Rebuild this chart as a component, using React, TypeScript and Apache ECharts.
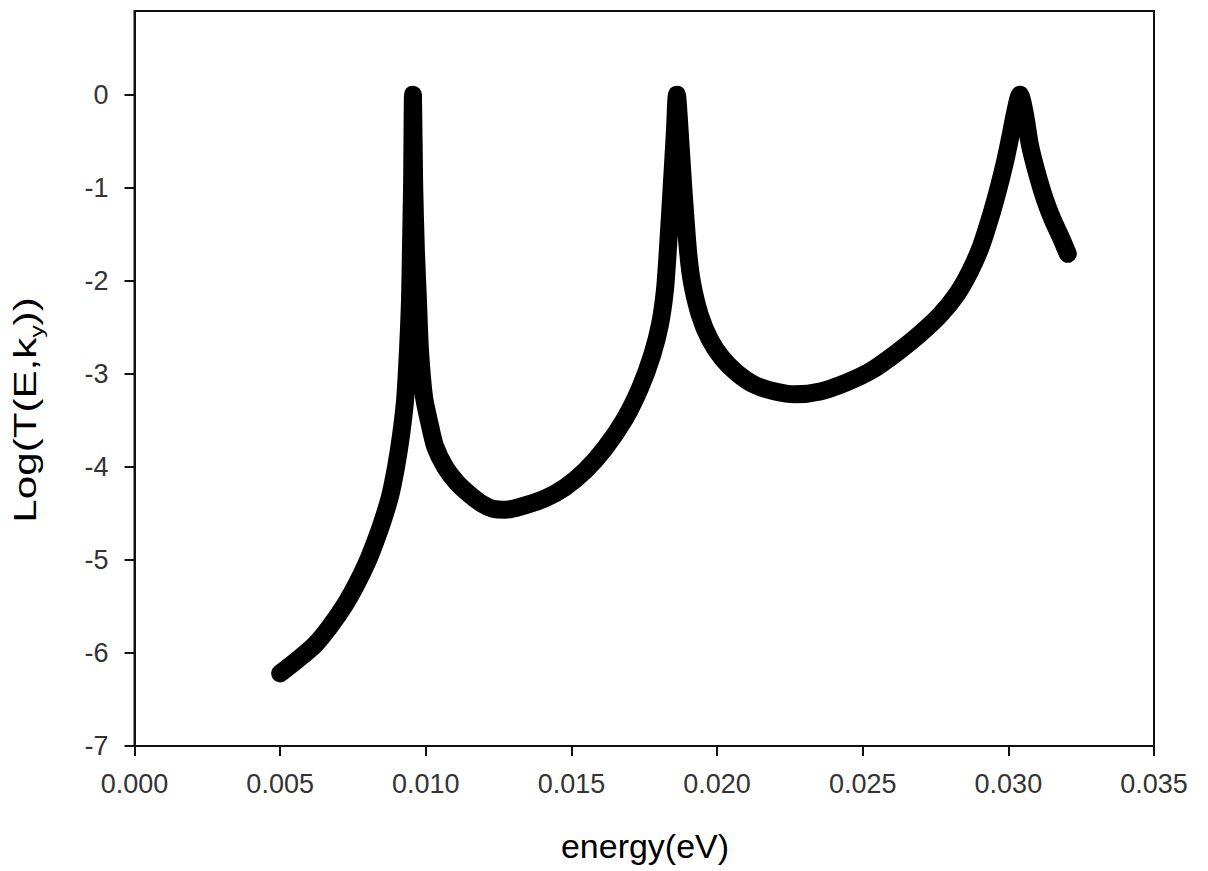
import React, { useEffect, useRef } from "react";
import * as echarts from "echarts";

// energy (eV) and Log(T(E,ky))
const energy: number[] = [
  0.005, 0.00557, 0.0062, 0.0067, 0.00723, 0.00764, 0.00798, 0.00826, 0.00853, 0.00877,
  0.00898, 0.00915, 0.00929, 0.00939, 0.00946, 0.00949, 0.00953, 0.00956,
  0.0096, 0.00966, 0.00973, 0.0098, 0.00994, 0.01014, 0.01032, 0.01066, 0.01107, 0.01152,
  0.01195, 0.0123, 0.01275, 0.01323, 0.01409, 0.01478, 0.01547, 0.01615, 0.01684, 0.01736, 0.01777, 0.01804,
  0.01821, 0.01831, 0.01845, 0.01855, 0.01862,
  0.01872, 0.01883, 0.019, 0.01914, 0.01941, 0.01975, 0.02017, 0.02068, 0.0213, 0.02199,
  0.02268, 0.02354, 0.02446, 0.02532, 0.02618, 0.02697, 0.02765, 0.02824, 0.02868, 0.02906,
  0.02937, 0.02964, 0.02988, 0.03005, 0.03022, 0.0304,
  0.03057, 0.03074, 0.03098, 0.03126, 0.03153, 0.03181, 0.03204,
];
const logT: number[] = [
  -6.22, -6.08, -5.91, -5.72, -5.48, -5.25, -5.03, -4.81, -4.57, -4.32,
  -4.0, -3.66, -3.28, -2.74, -2.2, -1.67, -0.95, 0.0,
  -0.95, -1.67, -2.2, -2.74, -3.25, -3.55, -3.78, -4.0, -4.17, -4.3,
  -4.4, -4.45, -4.46, -4.43, -4.34, -4.22, -4.04, -3.8, -3.48, -3.15, -2.8, -2.47,
  -2.1, -1.67, -0.95, -0.41, 0.0,
  -0.41, -0.95, -1.67, -2.02, -2.37, -2.63, -2.83, -2.99, -3.12, -3.19,
  -3.22, -3.19, -3.09, -2.96, -2.77, -2.57, -2.37, -2.14, -1.9, -1.63,
  -1.33, -1.03, -0.73, -0.48, -0.21, 0.0,
  -0.21, -0.54, -0.84, -1.13, -1.35, -1.54, -1.71,
];
const yTicks: number[] = [-7, -6, -5, -4, -3, -2, -1, 0];
const xTitle = "energy(eV)";

const FONT = "'Liberation Sans', Arial, sans-serif";

export default function App() {
  const ref = useRef<HTMLDivElement>(null);
  useEffect(() => {
    if (!ref.current) return;
    const chart = echarts.init(ref.current, null, { renderer: "svg" });
    const data = energy.map((e, i) => [e, logT[i]]);
    chart.setOption({
      animation: false,
      backgroundColor: "#ffffff",
      grid: {
        left: 134.5,
        top: 11,
        right: 54,
        bottom: 125,
        show: true,
        borderColor: "#111",
        borderWidth: 2,
        backgroundColor: "transparent",
      },
      xAxis: {
        type: "value",
        min: 0,
        max: 0.035,
        interval: 0.005,
        axisLine: { show: true, onZero: false, lineStyle: { color: "#111", width: 2 } },
        axisTick: { show: true, inside: false, length: 10, lineStyle: { color: "#111", width: 2 } },
        splitLine: { show: false },
        axisLabel: {
          margin: 24,
          fontSize: 27,
          fontFamily: FONT,
          color: "#333",
          formatter: (v: number) => v.toFixed(3),
        },
      },
      yAxis: {
        type: "value",
        min: -7,
        max: 0.9,
        axisLine: { show: true, onZero: false, lineStyle: { color: "#111", width: 2 } },
        axisTick: {
          show: true,
          inside: false,
          length: 10,
          customValues: yTicks,
          lineStyle: { color: "#111", width: 2 },
        },
        splitLine: { show: false },
        axisLabel: {
          margin: 26,
          fontSize: 27,
          fontFamily: FONT,
          color: "#333",
          customValues: yTicks,
          formatter: (v: number) => String(Math.round(v)),
        },
      },
      graphic: [
        {
          type: "text",
          x: 645,
          y: 847,
          scaleX: 1.03,
          style: {
            text: xTitle,
            fontSize: 33,
            fontFamily: FONT,
            fill: "#000",
            align: "center",
            verticalAlign: "middle",
          },
        },
        {
          type: "text",
          x: 26,
          y: 410,
          rotation: Math.PI / 2,
          scaleX: 1.36,
          style: {
            text: "{n|Log(T(E,k}{s|y}{n|))}",
            align: "center",
            verticalAlign: "middle",
            fill: "#000",
            rich: {
              n: { fontSize: 31, fontFamily: FONT, fill: "#000", lineHeight: 31, verticalAlign: "top" },
              s: {
                fontSize: 18,
                fontFamily: FONT,
                fill: "#000",
                lineHeight: 18,
                verticalAlign: "top",
                padding: [18, 0, 0, 0],
              },
            },
          },
        },
      ],
      series: [
        {
          type: "line",
          data,
          showSymbol: false,
          smooth: 0.25,
          lineStyle: { color: "#000", width: 18, cap: "round", join: "round" },
          itemStyle: { color: "#000" },
        },
      ],
    });
    return () => chart.dispose();
  }, []);
  return (
    <div
      ref={ref}
      style={{ position: "absolute", left: 0, top: 0, width: 1208, height: 871 }}
    />
  );
}
